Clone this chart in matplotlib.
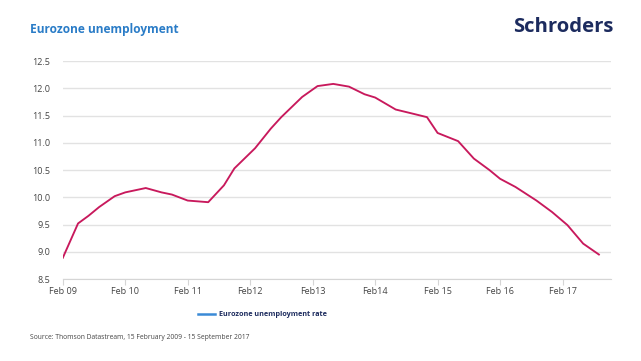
import numpy as np
import matplotlib
matplotlib.use('Agg')
import matplotlib.pyplot as plt
import pandas as pd

plt.rcParams['font.family'] = ['Open Sans', 'DejaVu Sans']

# Eurozone unemployment rate (%)
dates = ['2009-02', '2009-05', '2009-07', '2009-09', '2009-12', '2010-02',
         '2010-06', '2010-09', '2010-11', '2011-02', '2011-06', '2011-09',
         '2011-11', '2012-03', '2012-06', '2012-08', '2012-12', '2013-03',
         '2013-06', '2013-09', '2013-12', '2014-02', '2014-06', '2014-09',
         '2014-12', '2015-02', '2015-06', '2015-09', '2015-12', '2016-02',
         '2016-05', '2016-09', '2016-12', '2017-03', '2017-06', '2017-09']
rate = [8.89, 9.52, 9.66, 9.82, 10.02, 10.09,
        10.17, 10.09, 10.05, 9.94, 9.91, 10.22,
        10.53, 10.90, 11.26, 11.47, 11.84, 12.04,
        12.08, 12.03, 11.89, 11.83, 11.61, 11.54,
        11.47, 11.18, 11.03, 10.71, 10.50, 10.34,
        10.19, 9.94, 9.73, 9.49, 9.15, 8.95]

tick_dates = ['2009-02', '2010-02', '2011-02', '2012-02', '2013-02',
              '2014-02', '2015-02', '2016-02', '2017-02']
tick_labels = ['Feb 09', 'Feb 10', 'Feb 11', 'Feb12', 'Feb13',
               'Feb14', 'Feb 15', 'Feb 16', 'Feb 17']
yticks = [8.5, 9.0, 9.5, 10.0, 10.5, 11.0, 11.5, 12.0, 12.5]

x = pd.to_datetime(dates)
xt = pd.to_datetime(tick_dates)

fig = plt.figure(figsize=(6.41, 3.61), dpi=100)
ax = fig.add_axes([0.098, 0.227, 0.855, 0.604])

ax.plot(x, rate, color='#c8195c', lw=1.35)

ax.set_ylim(8.5, 12.5)
ax.set_yticks(yticks)
ax.set_yticklabels(['%.1f' % v for v in yticks])
ax.set_xlim(pd.Timestamp('2009-02-01'), pd.Timestamp('2017-11-10'))
ax.set_xticks(xt)
ax.set_xticklabels(tick_labels)

ax.grid(axis='y', color='#e2e2e2', lw=1)
ax.set_axisbelow(True)
for s in ['top', 'right', 'left']:
    ax.spines[s].set_visible(False)
ax.spines['bottom'].set_color('#d5d5d5')
ax.tick_params(axis='y', length=0, pad=9, labelsize=6.5, labelcolor='#444444')
ax.tick_params(axis='x', length=4, color='#d5d5d5', pad=2, labelsize=6.5,
               labelcolor='#444444')

fig.text(0.047, 0.917, 'Eurozone unemployment', fontsize=8.6, fontweight='bold',
         color='#2a7cc7', va='center')
fig.text(0.957, 0.925, 'Schroders', fontsize=14.6, fontweight='bold',
         color='#1c2b5e', va='center', ha='right')

# legend
fig.lines.append(plt.Line2D([0.309, 0.336], [0.130, 0.130], color='#3b8ad6',
                            lw=1.8, transform=fig.transFigure))
fig.text(0.342, 0.130, 'Eurozone unemployment rate', fontsize=5.2,
         fontweight='bold', color='#1c2b5e', va='center')

fig.text(0.047, 0.066, 'Source: Thomson Datastream, 15 February 2009 - 15 September 2017',
         fontsize=4.85, color='#444444', va='center')

fig.savefig('out.png', dpi=100, facecolor='white')
